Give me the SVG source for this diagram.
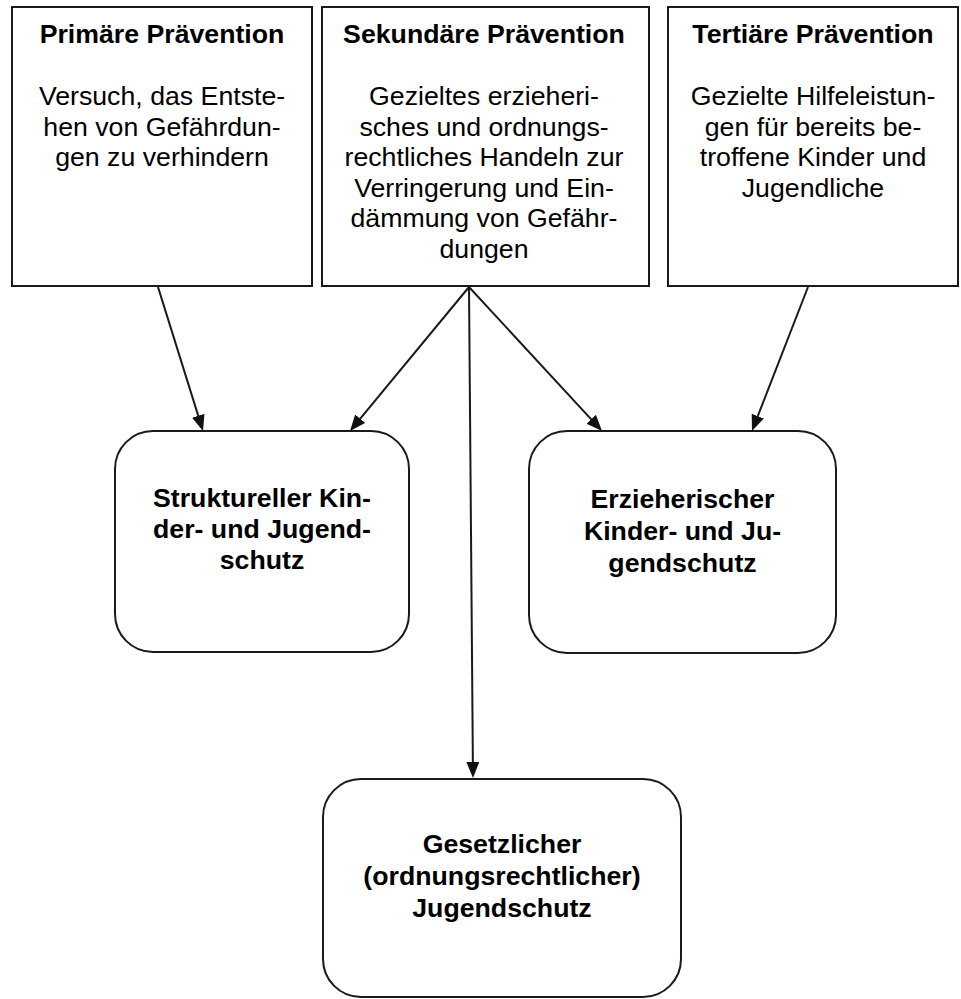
<svg xmlns="http://www.w3.org/2000/svg" width="961" height="999" viewBox="0 0 961 999">
<style>
.box{fill:#fff;stroke:#1a1a1a;stroke-width:2}
.t{font-family:"Liberation Sans",Arial,sans-serif;font-size:26.7px;fill:#000;text-anchor:middle}
.b{font-weight:bold}
.con line{stroke:#1a1a1a;stroke-width:2;marker-end:url(#ah)}
</style>
<defs>
<marker id="ah" viewBox="0 0 16 13" refX="8" refY="6.5" markerWidth="16" markerHeight="13" markerUnits="userSpaceOnUse" orient="auto">
<path d="M0,0 L16,6.5 L0,13 z" fill="#111"/>
</marker>
</defs>
<rect width="961" height="999" fill="#fff"/>
<g id="primaer">
<rect class="box" x="12" y="7" width="300" height="279"/>
<text class="t b" x="162" y="43">Primäre Prävention</text>
<text class="t" x="162" y="105">Versuch, das Entste-</text>
<text class="t" x="162" y="136">hen von Gefährdun-</text>
<text class="t" x="162" y="166">gen zu verhindern</text>
</g>
<g id="sekundaer">
<rect class="box" x="322" y="7" width="327" height="279"/>
<text class="t b" x="484" y="43">Sekundäre Prävention</text>
<text class="t" x="484" y="105">Gezieltes erzieheri-</text>
<text class="t" x="484" y="135.5">sches und ordnungs-</text>
<text class="t" x="484" y="166">rechtliches Handeln zur</text>
<text class="t" x="484" y="196.5">Verringerung und Ein-</text>
<text class="t" x="484" y="227">dämmung von Gefähr-</text>
<text class="t" x="484" y="257.5">dungen</text>
</g>
<g id="tertiaer">
<rect class="box" x="668" y="7" width="290" height="279"/>
<text class="t b" x="813" y="43">Tertiäre Prävention</text>
<text class="t" x="813" y="105">Gezielte Hilfeleistun-</text>
<text class="t" x="813" y="135.5">gen für bereits be-</text>
<text class="t" x="813" y="166">troffene Kinder und</text>
<text class="t" x="813" y="196.5">Jugendliche</text>
</g>
<g id="strukturell">
<rect class="box" x="115" y="431" width="294" height="221" rx="38" ry="38"/>
<text class="t b" x="262" y="507">Struktureller Kin-</text>
<text class="t b" x="262" y="538">der- und Jugend-</text>
<text class="t b" x="262" y="569">schutz</text>
</g>
<g id="erzieherisch">
<rect class="box" x="529" y="431" width="307" height="222" rx="38" ry="38"/>
<text class="t b" x="682.5" y="508">Erzieherischer</text>
<text class="t b" x="682.5" y="540">Kinder- und Ju-</text>
<text class="t b" x="682.5" y="572">gendschutz</text>
</g>
<g id="gesetzlich">
<rect class="box" x="323" y="779" width="358" height="218" rx="38" ry="38"/>
<text class="t b" x="502" y="853">Gesetzlicher</text>
<text class="t b" x="502" y="885">(ordnungsrechtlicher)</text>
<text class="t b" x="502" y="917">Jugendschutz</text>
</g>
<g id="connectors" class="con">
<line x1="158" y1="287" x2="200.63" y2="423.36"/>
<line x1="469" y1="287" x2="355.08" y2="424.82"/>
<line x1="469" y1="287" x2="472.93" y2="770"/>
<line x1="469" y1="287" x2="596.59" y2="425.11"/>
<line x1="808" y1="287" x2="754.88" y2="423.54"/>
</g>
</svg>
